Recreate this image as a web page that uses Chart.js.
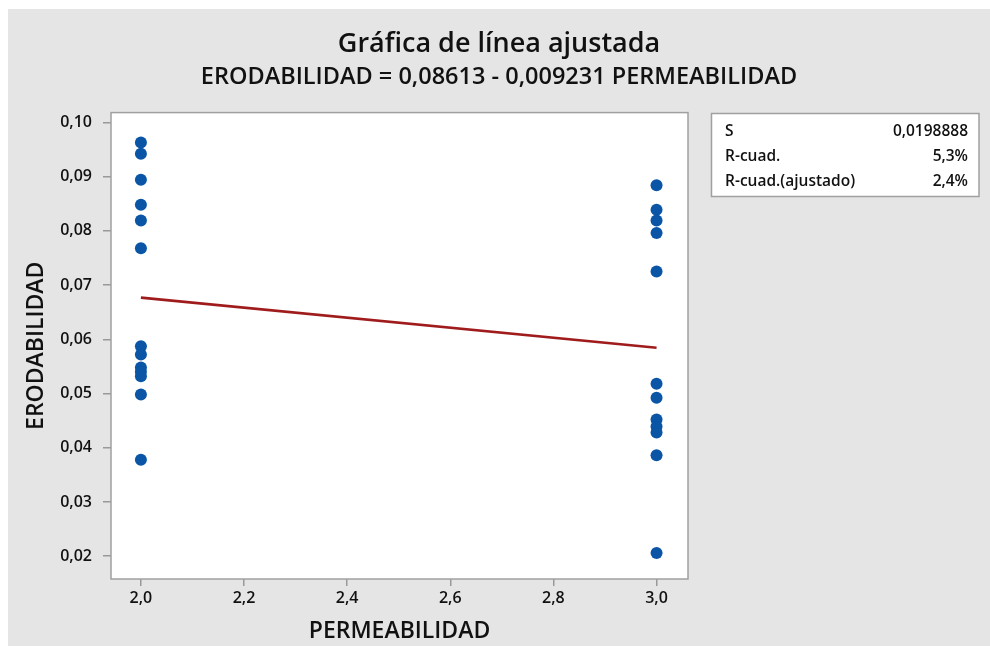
<!DOCTYPE html>
<html>
<head>
<meta charset="utf-8">
<script src="https://cdn.jsdelivr.net/npm/chart.js@4.4.1/dist/chart.umd.min.js"></script>
<style>
  html, body { margin: 0; padding: 0; background: #fff; }
  #wrap { position: absolute; left: 8px; top: 9px; width: 982px; height: 637px; }
</style>
</head>
<body>
<div id="wrap"><canvas id="grafica" width="982" height="637"></canvas></div>
<script>
// observaciones por nivel de permeabilidad
const nivelesPermeabilidad = [2.0, 3.0];
const erodabilidadPerm2 = [0.0963, 0.0942, 0.0894, 0.0848, 0.0819, 0.0768, 0.0587, 0.0572, 0.0548, 0.0540, 0.0532, 0.0498, 0.0378];
const erodabilidadPerm3 = [0.0884, 0.0839, 0.0819, 0.0796, 0.0725, 0.0518, 0.0492, 0.0452, 0.0439, 0.0428, 0.0386, 0.0206];

// coeficientes del ajuste
const intercepto = 0.08613;
const pendiente = -0.009231;

// marcas de los ejes
const ticksY = [0.02, 0.03, 0.04, 0.05, 0.06, 0.07, 0.08, 0.09, 0.10];
const ticksX = [2.0, 2.2, 2.4, 2.6, 2.8, 3.0];

// resumen del modelo
const resumenEtiquetas = ['S', 'R-cuad.', 'R-cuad.(ajustado)'];
const resumenValores = ['0,0198888', '5,3%', '2,4%'];

const FUENTE = "'Open Sans', 'Noto Sans', sans-serif";
const coma = (v, d) => v.toFixed(d).replace('.', ',');

const puntos = [];
erodabilidadPerm2.forEach(y => puntos.push({x: nivelesPermeabilidad[0], y: y}));
erodabilidadPerm3.forEach(y => puntos.push({x: nivelesPermeabilidad[1], y: y}));

const recta = nivelesPermeabilidad.map(x => ({x: x, y: intercepto + pendiente * x}));

// fondo gris, area blanca, marco y cuadro de resumen
const marco = {
  id: 'marco',
  beforeDraw(chart) {
    const {ctx, chartArea: a} = chart;
    ctx.save();
    ctx.fillStyle = '#e5e5e5';
    ctx.fillRect(0, 0, chart.width, chart.height);
    ctx.fillStyle = '#ffffff';
    ctx.fillRect(a.left, a.top, a.right - a.left, a.bottom - a.top);
    ctx.restore();
  },
  afterDraw(chart) {
    const {ctx, chartArea: a} = chart;
    ctx.save();
    ctx.strokeStyle = '#a0a0a0';
    ctx.lineWidth = 1.5;
    ctx.strokeRect(a.left, a.top, a.right - a.left, a.bottom - a.top);

    // cuadro con S y R-cuadrado
    const bx = 703.5, by = 104.5, bw = 267.5, bh = 83;
    ctx.fillStyle = '#ffffff';
    ctx.fillRect(bx, by, bw, bh);
    ctx.strokeRect(bx, by, bw, bh);
    ctx.fillStyle = '#111';
    ctx.font = '600 15.5px ' + FUENTE;
    ctx.textBaseline = 'middle';
    const filas = [122.5, 148, 172.5];
    resumenEtiquetas.forEach((t, i) => {
      ctx.textAlign = 'left';
      ctx.fillText(t, 717, filas[i]);
      ctx.textAlign = 'right';
      ctx.fillText(resumenValores[i], 960, filas[i]);
    });
    ctx.restore();
  }
};

new Chart(document.getElementById('grafica'), {
  type: 'scatter',
  data: {
    datasets: [
      {
        type: 'line',
        label: 'Ajuste',
        data: recta,
        borderColor: '#a01c1c',
        borderWidth: 2.7,
        pointRadius: 0,
        fill: false,
        order: 2
      },
      {
        label: 'ERODABILIDAD',
        data: puntos,
        backgroundColor: '#0a55a5',
        borderWidth: 0,
        pointRadius: 6,
        order: 1
      }
    ]
  },
  options: {
    responsive: false,
    animation: false,
    devicePixelRatio: 1,
    layout: { padding: 0 },
    plugins: {
      legend: { display: false },
      tooltip: { enabled: false },
      title: {
        display: true,
        text: 'Gráfica de línea ajustada',
        color: '#111',
        font: { family: FUENTE, size: 27, weight: '600' },
        padding: { top: 19, bottom: 0 }
      },
      subtitle: {
        display: true,
        text: 'ERODABILIDAD = 0,08613 - 0,009231 PERMEABILIDAD',
        color: '#111',
        font: { family: FUENTE, size: 23.5, weight: '600' },
        padding: { top: 3, bottom: 21 }
      }
    },
    scales: {
      x: {
        type: 'linear',
        min: 1.942,
        max: 3.061,
        afterFit: s => { s.height = 67; },
        afterBuildTicks: s => { s.ticks = ticksX.map(v => ({value: v})); },
        ticks: {
          color: '#111',
          font: { family: FUENTE, size: 16, weight: '600' },
          padding: 3,
          callback: v => coma(v, 1)
        },
        grid: { drawOnChartArea: false, drawTicks: true, tickLength: 7, color: '#999', lineWidth: 1.5 },
        border: { display: false },
        title: {
          display: true,
          text: 'PERMEABILIDAD',
          color: '#111',
          font: { family: FUENTE, size: 23, weight: '600' },
          padding: { top: 0, bottom: 1 }
        }
      },
      y: {
        type: 'linear',
        min: 0.0158,
        max: 0.1018,
        afterFit: s => { s.width = 103; },
        afterBuildTicks: s => { s.ticks = ticksY.map(v => ({value: v})); },
        ticks: {
          color: '#111',
          font: { family: FUENTE, size: 16, weight: '600' },
          padding: 11,
          callback: v => coma(v, 2)
        },
        grid: { drawOnChartArea: false, drawTicks: true, tickLength: 8, color: '#999', lineWidth: 1.5 },
        border: { display: false },
        title: {
          display: true,
          text: 'ERODABILIDAD',
          color: '#111',
          font: { family: FUENTE, size: 23, weight: '600' },
          padding: { top: 15, bottom: 0 }
        }
      },
      // eje vacio a la derecha que reserva el espacio del cuadro de resumen
      margen: {
        type: 'linear',
        position: 'right',
        afterFit: s => { s.width = 302; },
        ticks: { display: false },
        grid: { display: false },
        border: { display: false }
      }
    }
  },
  plugins: [marco]
});
</script>
</body>
</html>
